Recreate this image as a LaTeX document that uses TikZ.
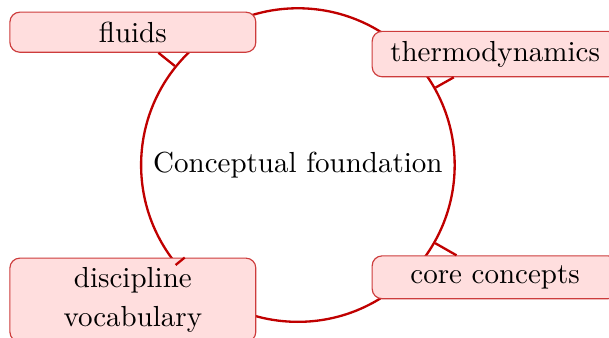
\documentclass[tikz,border=0pt]{standalone}
\usepackage{tikz}

\definecolor{ringred}{RGB}{192,0,0}
\definecolor{boxline}{RGB}{205,60,60}
\definecolor{boxfill}{RGB}{255,222,222}

\tikzset{
    topic/.style={draw=boxline,fill=boxfill,rounded corners=1.2mm,minimum width=\boxwidth cm,align=center,font=\normalsize},
    hub/.style={circle,draw=ringred,line width=0.8pt,minimum size=2*\hubradius cm,inner sep=0},
    link/.style={draw=ringred,line width=0.8pt}
}

\begin{document}
\begin{tikzpicture}
    \pgfmathsetmacro{\hubradius}{1.9}
    \pgfmathsetmacro{\boxwidth}{2.98}
    \pgfmathsetmacro{\leftx}{-2.0}
    \pgfmathsetmacro{\rightx}{2.39}
    \useasboundingbox (-3.61,-2.085) rectangle (3.77,2.0);
    \node[hub](hub) at (0,0){Conceptual foundation};
    % topics round the hub
    \node[topic](fluids) at (\leftx,1.61){fluids};
    \node[topic](thermo) at (\rightx,1.345){thermodynamics};
    \node[topic](core) at (\rightx,-1.36){core concepts};
    \node[topic](vocab) at (\leftx,-1.635){discipline\\[1.2pt]vocabulary};
    \foreach \t in {fluids,thermo,core,vocab}
        \draw[link] (hub) -- (\t);
\end{tikzpicture}
\end{document}
